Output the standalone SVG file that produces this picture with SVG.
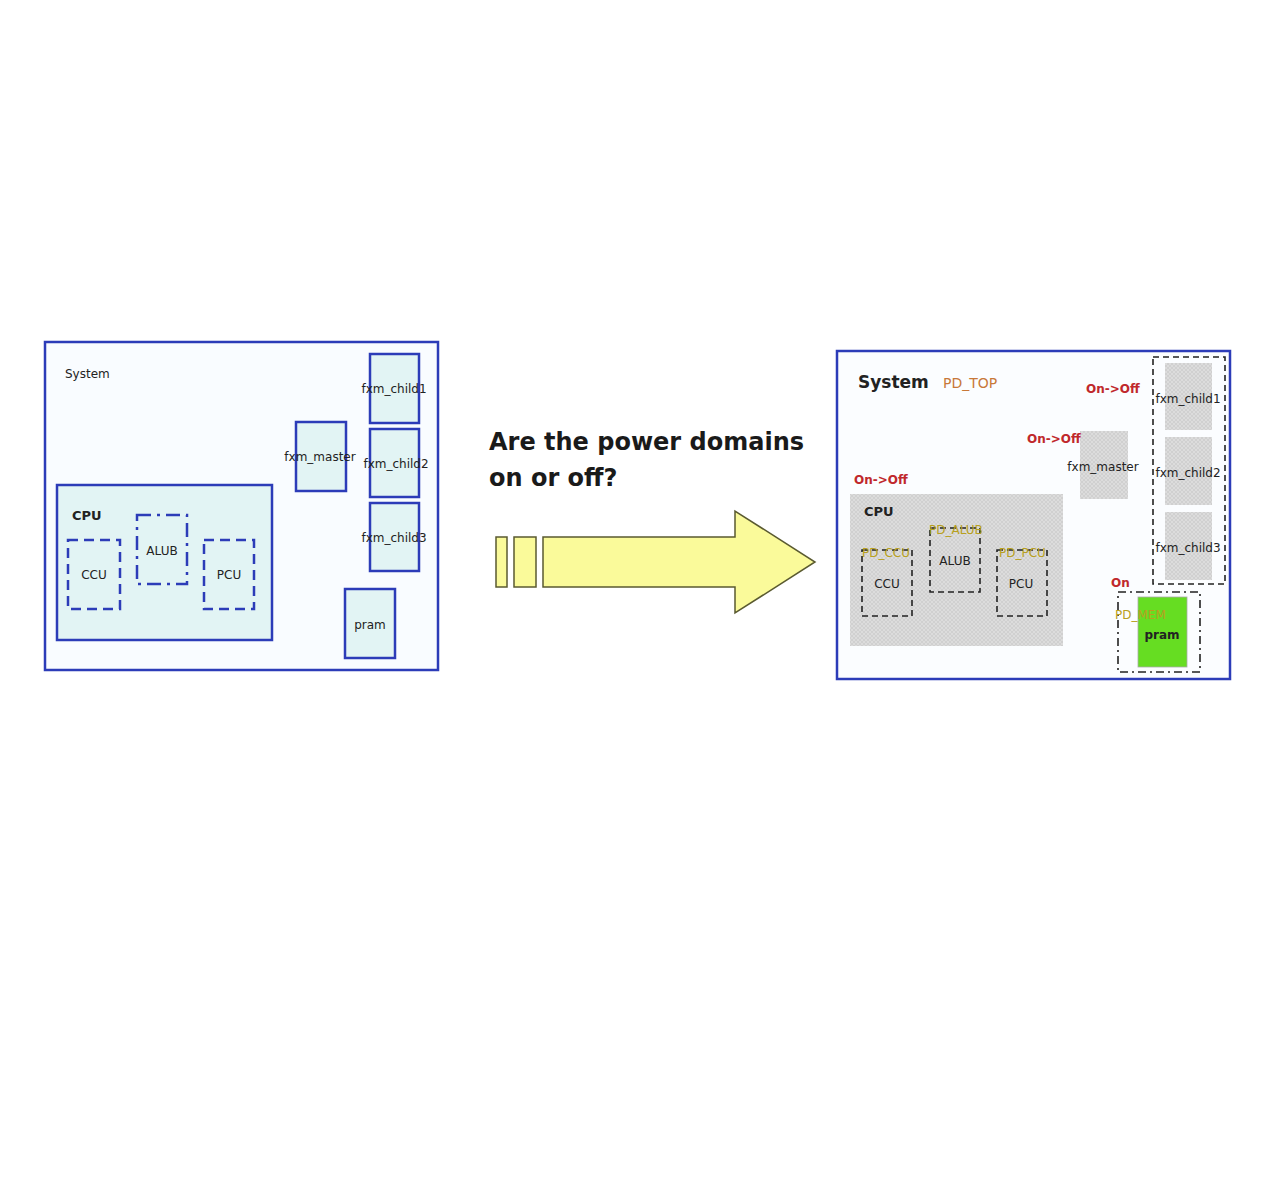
<svg xmlns="http://www.w3.org/2000/svg" width="1280" height="1190" viewBox="0 0 1280 1190">
<style>
.t{font-family:"DejaVu Sans",Verdana,sans-serif;font-size:12px;fill:#222}
.tb{font-family:"DejaVu Sans",Verdana,sans-serif;font-size:13px;font-weight:bold;fill:#222}
.red{font-family:"DejaVu Sans",Verdana,sans-serif;font-size:12px;font-weight:bold;fill:#c0282c}
.pd{font-family:"DejaVu Sans",Verdana,sans-serif;font-size:12px;fill:#b8a020}
.blk{fill:#e2f4f4;stroke:#2c3cb8;stroke-width:2.5}
.dash{fill:none;stroke:#222;stroke-width:1.6;stroke-dasharray:6 4}
.dashdot{fill:none;stroke:#222;stroke-width:1.6;stroke-dasharray:8 4 2 4}
.bdash{fill:none;stroke:#2c3cb8;stroke-width:2.5;stroke-dasharray:10 6}
.bdashdot{fill:none;stroke:#2c3cb8;stroke-width:2.5;stroke-dasharray:14 6 3 6}
</style>
<defs>
<pattern id="hatch" width="4" height="4" patternUnits="userSpaceOnUse">
<rect width="4" height="4" fill="#dcdcdc"/>
<path d="M0 0L4 4M4 0L0 4" stroke="#cccccc" stroke-width="0.7"/>
</pattern>
</defs>
<rect width="1280" height="1190" fill="#ffffff"/>

<!-- Left panel -->
<g id="left-system">
<rect x="45" y="342" width="393" height="328" fill="#f9fcff" stroke="#2c3cb8" stroke-width="2.5"/>
<text class="t" x="65" y="378">System</text>
</g>
<g id="left-cpu">
<rect class="blk" x="57" y="485" width="215" height="155"/>
<text class="tb" x="72" y="520">CPU</text>
</g>
<g id="left-ccu"><rect class="bdash" x="68" y="540" width="52" height="69"/><text class="t" x="94" y="579" text-anchor="middle">CCU</text></g>
<g id="left-alub"><rect class="bdashdot" x="137" y="515" width="50" height="69"/><text class="t" x="162" y="555" text-anchor="middle">ALUB</text></g>
<g id="left-pcu"><rect class="bdash" x="204" y="540" width="50" height="69"/><text class="t" x="229" y="579" text-anchor="middle">PCU</text></g>
<g id="left-master"><rect class="blk" x="296" y="422" width="50" height="69"/><text class="t" x="320" y="461" text-anchor="middle">fxm_master</text></g>
<g id="left-child1"><rect class="blk" x="370" y="354" width="49" height="69"/><text class="t" x="394" y="393" text-anchor="middle">fxm_child1</text></g>
<g id="left-child2"><rect class="blk" x="370" y="429" width="49" height="68"/><text class="t" x="396" y="468" text-anchor="middle">fxm_child2</text></g>
<g id="left-child3"><rect class="blk" x="370" y="503" width="49" height="68"/><text class="t" x="394" y="542" text-anchor="middle">fxm_child3</text></g>
<g id="left-pram"><rect class="blk" x="345" y="589" width="50" height="69"/><text class="t" x="370" y="629" text-anchor="middle">pram</text></g>

<!-- Middle -->
<g id="question">
<text x="489" y="450" font-family="'DejaVu Sans',Verdana,sans-serif" font-size="24" font-weight="bold" fill="#1a1a1a">Are the power domains</text>
<text x="489" y="486" font-family="'DejaVu Sans',Verdana,sans-serif" font-size="24" font-weight="bold" fill="#1a1a1a">on or off?</text>
</g>
<g id="arrow" fill="#fafa9a" stroke="#5a5a30" stroke-width="1.5">
<rect x="496" y="537" width="11" height="50"/>
<rect x="514" y="537" width="22" height="50"/>
<path d="M543 537H735V511L815 562L735 613V587H543Z"/>
</g>

<!-- Right panel -->
<g id="right-system">
<rect x="837" y="351" width="393" height="328" fill="#fbfdff" stroke="#2c3cb8" stroke-width="2.5"/>
<text class="tb" x="858" y="388" style="font-size:17px">System</text>
<text x="943" y="388" font-family="'DejaVu Sans',Verdana,sans-serif" font-size="14" fill="#c87838">PD_TOP</text>
</g>
<g id="right-cpu">
<rect x="850" y="494" width="213" height="152" fill="url(#hatch)"/>
<text class="tb" x="864" y="516">CPU</text>
<text class="red" x="854" y="484">On-&gt;Off</text>
</g>
<g id="right-ccu"><rect class="dash" x="862" y="550" width="50" height="66"/><text class="pd" x="862" y="557">PD_CCU</text><text class="t" x="887" y="588" text-anchor="middle">CCU</text></g>
<g id="right-alub"><rect class="dash" x="930" y="528" width="50" height="64"/><text class="pd" x="929" y="534">PD_ALUB</text><text class="t" x="955" y="565" text-anchor="middle">ALUB</text></g>
<g id="right-pcu"><rect class="dash" x="997" y="550" width="50" height="66"/><text class="pd" x="999" y="557">PD_PCU</text><text class="t" x="1021" y="588" text-anchor="middle">PCU</text></g>
<g id="right-master">
<rect x="1080" y="431" width="48" height="68" fill="url(#hatch)"/>
<text class="red" x="1027" y="443">On-&gt;Off</text>
<text class="t" x="1103" y="471" text-anchor="middle">fxm_master</text>
</g>
<g id="right-children">
<rect class="dash" x="1153" y="357" width="72" height="227"/>
<text class="red" x="1086" y="393">On-&gt;Off</text>
</g>
<g id="right-child1"><rect x="1165" y="363" width="47" height="67" fill="url(#hatch)"/><text class="t" x="1188" y="403" text-anchor="middle">fxm_child1</text></g>
<g id="right-child2"><rect x="1165" y="437" width="47" height="68" fill="url(#hatch)"/><text class="t" x="1188" y="477" text-anchor="middle">fxm_child2</text></g>
<g id="right-child3"><rect x="1165" y="512" width="47" height="68" fill="url(#hatch)"/><text class="t" x="1188" y="552" text-anchor="middle">fxm_child3</text></g>
<g id="right-mem">
<rect class="dashdot" x="1118" y="592" width="82" height="80"/>
<rect x="1138" y="597" width="49" height="70" fill="#66dd22" stroke="#aaaaaa" stroke-width="0.8"/>
<text class="red" x="1111" y="587">On</text>
<text class="pd" x="1115" y="619">PD_MEM</text>
<text class="tb" x="1162" y="639" text-anchor="middle" style="font-size:12px">pram</text>
</g>
</svg>
